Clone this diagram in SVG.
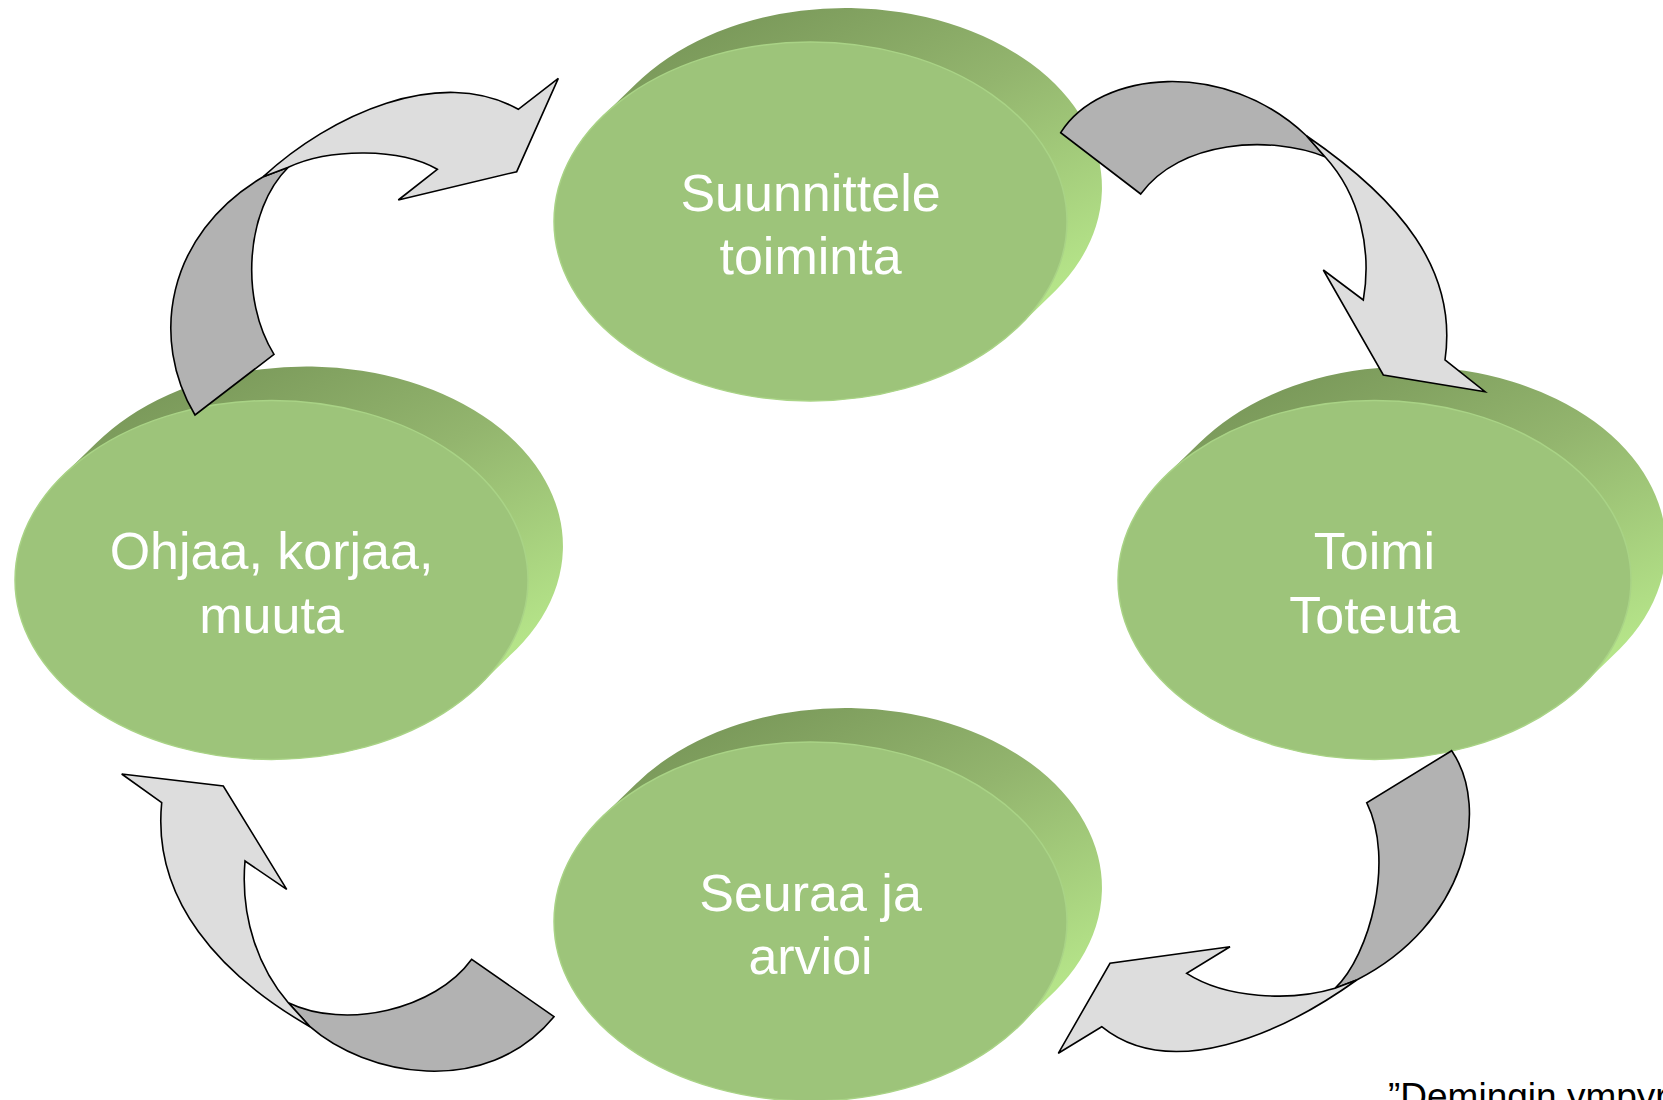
<svg xmlns="http://www.w3.org/2000/svg" xmlns:xlink="http://www.w3.org/1999/xlink" width="1663" height="1100" viewBox="0 0 1663 1100">
<style>
.lbl{font-family:"Liberation Sans",Arial,sans-serif;font-size:52px;fill:#ffffff;text-anchor:middle}
.face{fill:#9dc47a;stroke:#a9d386;stroke-width:1.5}
.dark{fill:#b2b2b2;stroke:#000;stroke-width:1.6;stroke-linejoin:miter}
.light{fill:#dddddd;stroke:#000;stroke-width:1.6;stroke-linejoin:miter}
.note{font-family:"Liberation Sans",Arial,sans-serif;font-size:37px;fill:#000}
</style>
<defs>
<linearGradient id="side" x1="0.35" y1="0" x2="0.85" y2="0.75">
<stop offset="0" stop-color="#7a995a"/>
<stop offset="0.45" stop-color="#93b56e"/>
<stop offset="1" stop-color="#b5e489"/>
</linearGradient>
<path id="body" d="M-175.2,-136.9 A256.5,179.5 0 0 1 245.2,68.9 L210.2,102.9 A256.5,179.5 0 0 1 -210.2,-102.9 Z" fill="url(#side)"/>
</defs>
<rect width="1663" height="1100" fill="#ffffff"/>
<g id="node-suunnittele" transform="translate(810.5,221.5)">
<use xlink:href="#body"/>
<ellipse class="face" rx="256.5" ry="179.5"/>
<text class="lbl" y="-11">Suunnittele</text>
<text class="lbl" y="52.5">toiminta</text>
</g>
<g id="node-toimi" transform="translate(1374.5,580)">
<use xlink:href="#body"/>
<ellipse class="face" rx="256.5" ry="179.5"/>
<text class="lbl" y="-11">Toimi</text>
<text class="lbl" y="52.5">Toteuta</text>
</g>
<g id="node-seuraa" transform="translate(810.5,921.5)">
<use xlink:href="#body"/>
<ellipse class="face" rx="256.5" ry="179.5"/>
<text class="lbl" y="-11">Seuraa ja</text>
<text class="lbl" y="52.5">arvioi</text>
</g>
<g id="node-ohjaa" transform="translate(271.5,580)">
<use xlink:href="#body"/>
<ellipse class="face" rx="256.5" ry="179.5"/>
<text class="lbl" y="-11">Ohjaa, korjaa,</text>
<text class="lbl" y="52.5">muuta</text>
</g>
<g id="connectors">
<g id="arrow-plan-do">
<path class="dark" d="M1060.7,132.7 C1100,70 1225,58 1306.7,136 L1325,156.7 C1270,135 1180,140 1140.7,194 Z"/>
<path class="light" d="M1306.7,136 C1400,200 1458,270 1445,360 L1485,391.7 L1383.3,375 L1323.3,270 L1363.3,300 C1372,250 1360,195 1325,156.7 Z"/>
</g>
<g id="arrow-do-check">
<path class="dark" d="M1451.7,750.7 C1492,810 1465,925 1356.7,980 L1335,988.3 C1370,955 1395,860 1366.7,802.7 Z"/>
<path class="light" d="M1356.7,980 C1280,1035 1170,1082 1101.7,1026.7 L1058.3,1053.3 L1110,963.3 L1230,946.7 L1186.7,973.3 C1225,998 1290,1002 1335,988.3 Z"/>
</g>
<g id="arrow-check-act">
<path class="dark" d="M471.7,959.3 C435,1010 345,1030 288.3,1002.7 L310,1026.7 C365,1075 485,1100 554,1016.7 Z"/>
<path class="light" d="M310,1026.7 C220,975 152,900 161.7,802.7 L121.7,774 L223.3,786 L286.7,889.3 L245,861 C240,920 260,970 288.3,1002.7 Z"/>
</g>
<g id="arrow-act-plan">
<path class="dark" d="M195,415 C150,340 165,235 263.3,176.7 L288.3,167.3 C245,210 240,300 274,354.3 Z"/>
<path class="light" d="M263.3,176.7 C330,115 440,65 518.3,109.3 L558.3,78.3 L516.7,171.7 L398.3,200 L437.3,169.3 C400,148 330,148 288.3,167.3 Z"/>
</g>
</g>
<text class="note" x="1388" y="1108.5">”Demingin ympyrä”</text>
</svg>
